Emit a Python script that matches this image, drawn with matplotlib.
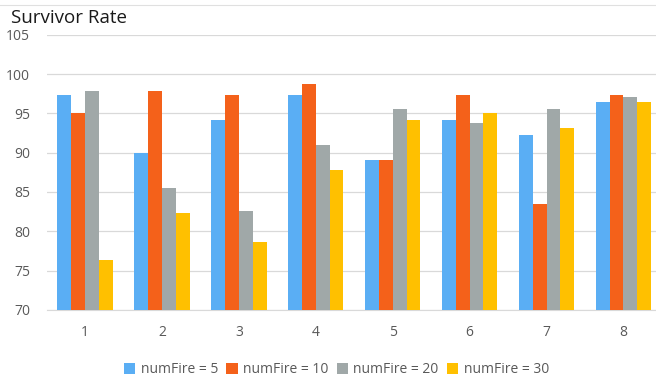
import numpy as np
import matplotlib.pyplot as plt

plt.rcParams["font.family"] = ["Open Sans", "DejaVu Sans"]

groups = ["1", "2", "3", "4", "5", "6", "7", "8"]
fire5 = [97.4, 89.9, 94.2, 97.4, 89.1, 94.2, 92.3, 96.4]
fire10 = [95.1, 97.9, 97.4, 98.7, 89.1, 97.4, 83.5, 97.4]
fire20 = [97.9, 85.5, 82.6, 91.0, 95.5, 93.8, 95.5, 97.1]
fire30 = [76.3, 82.3, 78.6, 87.8, 94.2, 95.1, 93.2, 96.4]
series = [("numFire = 5", fire5, "#5aaef4"),
          ("numFire = 10", fire10, "#f4611a"),
          ("numFire = 20", fire20, "#a0a8a8"),
          ("numFire = 30", fire30, "#ffc000")]

fig = plt.figure(figsize=(6.56, 3.83), dpi=100)
ax = fig.add_axes([0.071, 0.191, 0.938, 0.718])

x = np.arange(len(groups))
w = 0.18
for i, (name, vals, col) in enumerate(series):
    ax.bar(x + (i - 1.5) * w, np.array(vals) - 70, bottom=70, width=w,
           color=col, label=name, zorder=3)

ax.set_ylim(70, 105)
ax.set_xlim(-0.5, 7.5)
ax.set_yticks(range(70, 106, 5))
ax.set_xticks(x)
ax.set_xticklabels(groups)
ax.grid(axis="y", color="#d9d9d9", linewidth=0.9, zorder=0)
for s in ["top", "right", "left"]:
    ax.spines[s].set_visible(False)
ax.spines["bottom"].set_color("#d9d9d9")
ax.tick_params(length=0, colors="#595959", labelsize=10)
ax.tick_params(axis="y", pad=12)
ax.tick_params(axis="x", pad=11)

fig.text(0.017, 0.953, "Survivor Rate", fontsize=13.5, color="#1a1a1a",
         ha="left", va="center")
fig.add_artist(plt.Line2D([0.0, 1.0], [0.988, 0.988], color="#e0e0e0",
                          linewidth=0.8))

fig.legend(loc="center", bbox_to_anchor=(0.513, 0.035), ncol=4, frameon=False,
           fontsize=10, handlelength=0.8, handleheight=0.8, handletextpad=0.4,
           columnspacing=0.6, labelcolor="#595959")

fig.savefig("out.png", dpi=100, facecolor="white")
